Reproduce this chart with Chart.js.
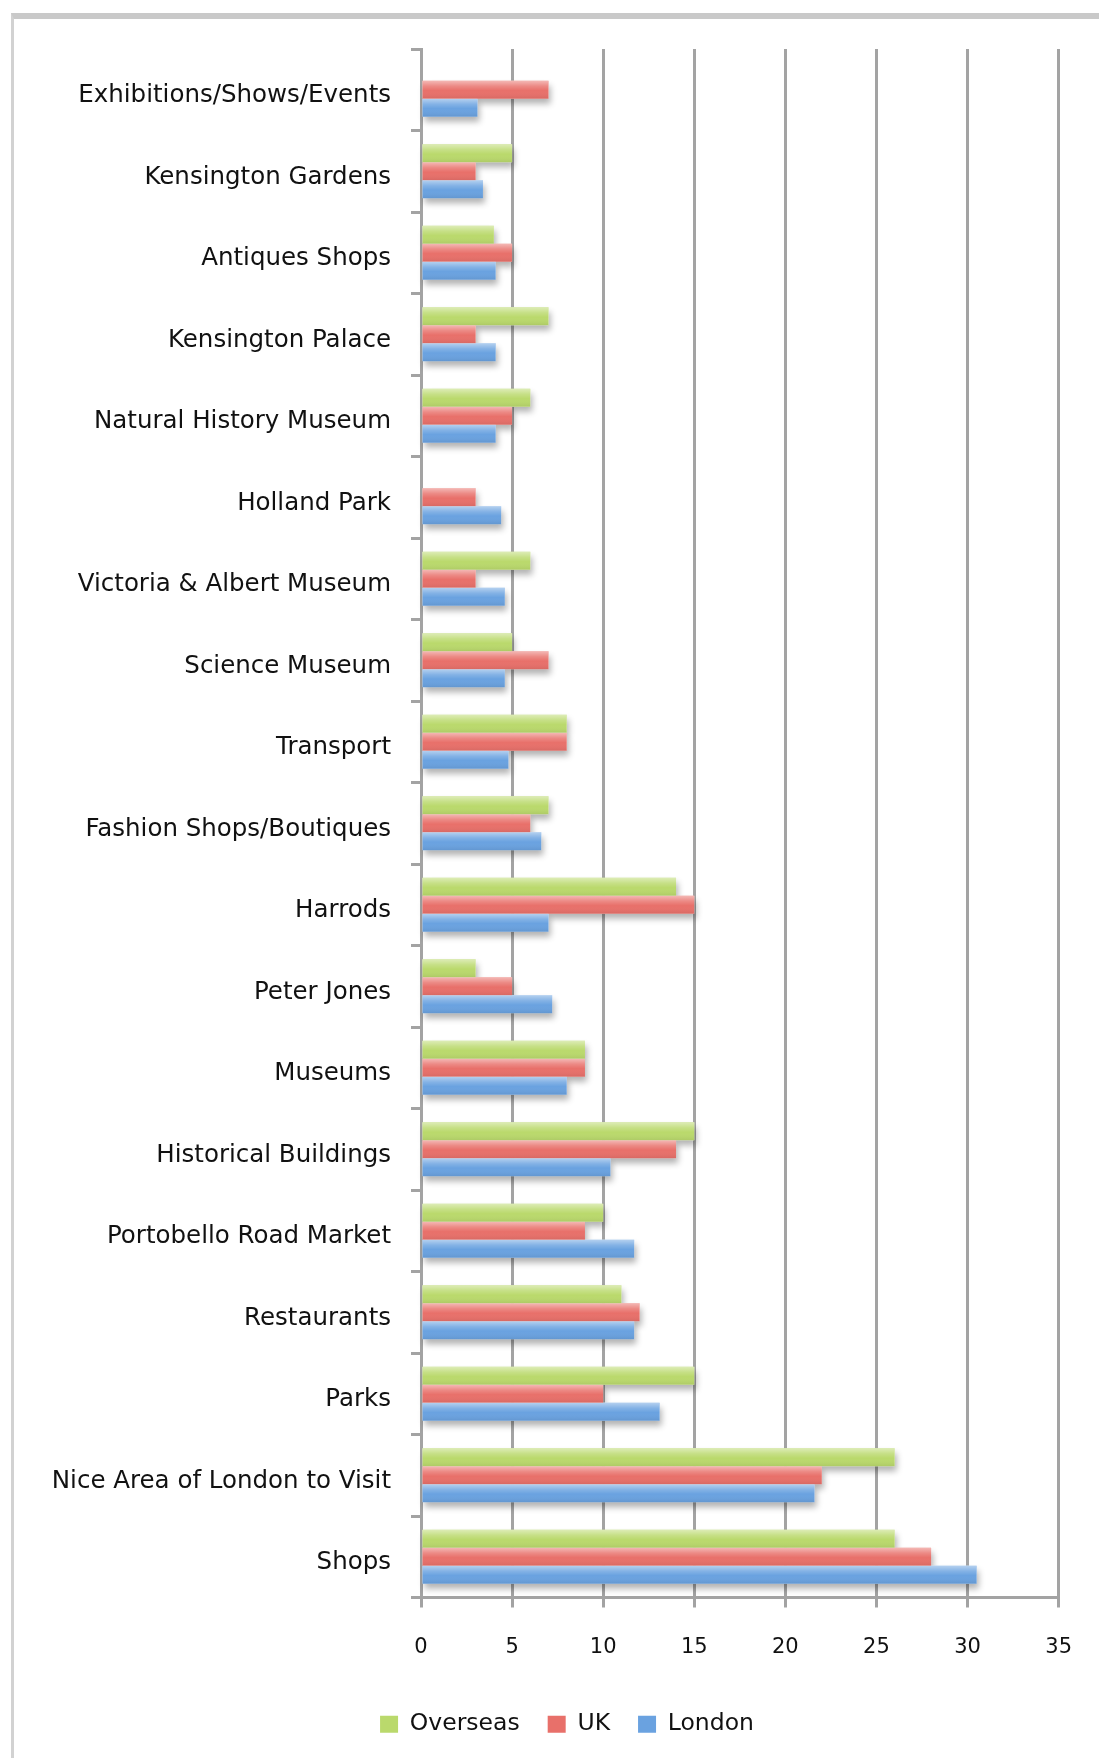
<!DOCTYPE html>
<html>
<head>
<meta charset="utf-8">
<title>Reasons to visit</title>
<script src="https://cdn.jsdelivr.net/npm/chart.js@4.4.0/dist/chart.umd.min.js"></script>
<style>
  html, body { margin: 0; padding: 0; background: #fff; overflow: hidden; }
  #wrap { position: relative; width: 1099px; height: 1758px; }
  #frame { position: absolute; left: 11px; top: 13px; right: 0; bottom: 0;
           border-top: 6px solid #c9c9c9; border-left: 3px solid #d2d2d2; }
  #chart { position: absolute; left: 0; top: 0; }
</style>
</head>
<body>
<div id="wrap">
  <div id="frame"></div>
  <canvas id="chart" width="1099" height="1758"></canvas>
</div>
<script>
// categories, top to bottom
const categories = [
  'Exhibitions/Shows/Events',
  'Kensington Gardens',
  'Antiques Shops',
  'Kensington Palace',
  'Natural History Museum',
  'Holland Park',
  'Victoria & Albert Museum',
  'Science Museum',
  'Transport',
  'Fashion Shops/Boutiques',
  'Harrods',
  'Peter Jones',
  'Museums',
  'Historical Buildings',
  'Portobello Road Market',
  'Restaurants',
  'Parks',
  'Nice Area of London to Visit',
  'Shops'
];

const overseas = [0, 5, 4, 7, 6, 0, 6, 5, 8, 7, 14, 3, 9, 15, 10, 11, 15, 26, 26];
const uk       = [7, 3, 5, 3, 5, 3, 3, 7, 8, 6, 15, 5, 9, 14, 9, 12, 10, 22, 28];
const london   = [3.1, 3.4, 4.1, 4.1, 4.1, 4.4, 4.6, 4.6, 4.8, 6.6, 7.0, 7.2, 8.0, 10.4, 11.7, 11.7, 13.1, 21.6, 30.5];

const xTicks = [0, 5, 10, 15, 20, 25, 30, 35];

const FONT = "'DejaVu Sans', Verdana, sans-serif";
const GRID = '#a3a3a3';

// draws soft drop shadows before the bars, and a glossy band over them after
const barShine = {
  id: 'barShine',
  beforeDatasetsDraw(chart) {
    const ctx = chart.ctx;
    ctx.save();
    ctx.shadowColor = 'rgba(0,0,0,0.30)';
    ctx.shadowBlur = 6;
    ctx.shadowOffsetX = 2;
    ctx.shadowOffsetY = 5;
    ctx.fillStyle = '#ffffff';
    chart.getSortedVisibleDatasetMetas().forEach(meta => {
      meta.data.forEach(bar => {
        const p = bar.getProps(['x', 'y', 'base', 'height'], true);
        const w = p.x - p.base;
        if (w < 1) return;
        ctx.fillRect(p.base, p.y - p.height / 2, w, p.height);
      });
    });
    ctx.restore();
  },
  afterDatasetsDraw(chart) {
    const ctx = chart.ctx;
    ctx.save();
    chart.getSortedVisibleDatasetMetas().forEach(meta => {
      meta.data.forEach(bar => {
        const p = bar.getProps(['x', 'y', 'base', 'height'], true);
        const w = p.x - p.base;
        if (w < 1) return;
        const top = p.y - p.height / 2;
        const g = ctx.createLinearGradient(0, top, 0, top + p.height);
        g.addColorStop(0, 'rgba(255,255,255,0.50)');
        g.addColorStop(0.3, 'rgba(255,255,255,0.18)');
        g.addColorStop(0.55, 'rgba(255,255,255,0)');
        g.addColorStop(1, 'rgba(0,0,0,0.07)');
        ctx.fillStyle = g;
        ctx.fillRect(p.base, top, w, p.height);
      });
    });
    ctx.restore();
  }
};

// the legend sits a little right of the canvas centre
const legendShift = {
  id: 'legendShift',
  afterLayout(chart) {
    chart.legend.left += 21;
    chart.legend.right += 21;
  }
};

const ctx = document.getElementById('chart').getContext('2d');

new Chart(ctx, {
  type: 'bar',
  data: {
    labels: categories,
    datasets: [
      { label: 'Overseas', data: overseas, backgroundColor: '#bad96c' },
      { label: 'UK', data: uk, backgroundColor: '#e8706a' },
      { label: 'London', data: london, backgroundColor: '#6aa2e0' }
    ]
  },
  options: {
    indexAxis: 'y',
    responsive: false,
    animation: false,
    devicePixelRatio: 1,
    datasets: {
      bar: { categoryPercentage: 0.66, barPercentage: 1, borderWidth: 0 }
    },
    layout: { padding: { left: 30, right: 37, top: 49, bottom: 12 } },
    scales: {
      x: {
        min: 0,
        max: 35,
        afterBuildTicks: (scale) => { scale.ticks = xTicks.map(v => ({ value: v })); },
        ticks: { padding: 27, color: '#111', font: { family: FONT, size: 21 } },
        grid: { color: GRID, lineWidth: 3, tickLength: 10 },
        border: { color: GRID, width: 3 },
        afterFit: (scale) => { scale.height = 87; }
      },
      y: {
        ticks: { autoSkip: false, padding: 20, labelOffset: 6, color: '#111', font: { family: FONT, size: 24.5 } },
        grid: { drawOnChartArea: false, color: GRID, lineWidth: 3, tickLength: 10 },
        border: { color: GRID, width: 3 },
        afterFit: (scale) => { scale.width = 421 - 30; }
      }
    },
    plugins: {
      legend: {
        position: 'bottom',
        labels: {
          boxWidth: 18,
          boxHeight: 17,
          padding: 28,
          color: '#111',
          font: { family: FONT, size: 23.5 }
        }
      },
      tooltip: { enabled: false }
    }
  },
  plugins: [barShine, legendShift]
});
</script>
</body>
</html>
